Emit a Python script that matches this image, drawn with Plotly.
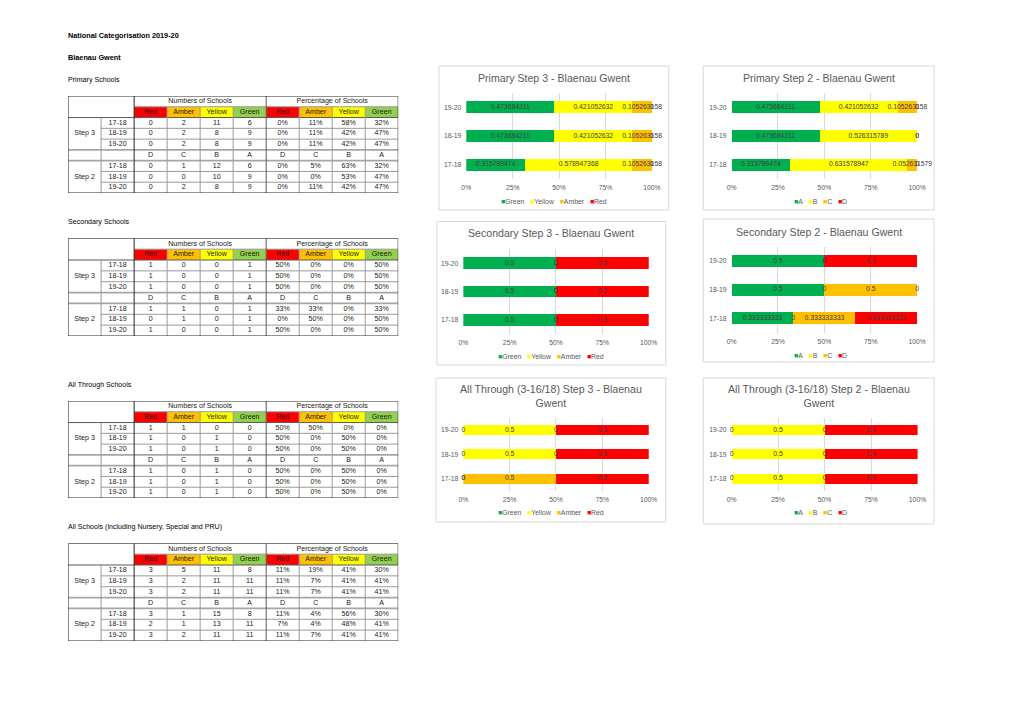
import plotly.graph_objects as go

W, H = 1020, 721

# ---------------- data ----------------
years = ["17-18", "18-19", "19-20"]
step3_bands = ["Red", "Amber", "Yellow", "Green"]
step2_bands = ["D", "C", "B", "A"]

primary_step3 = [[0, 2, 11, 6], [0, 2, 8, 9], [0, 2, 8, 9]]
primary_step2 = [[0, 1, 12, 6], [0, 0, 10, 9], [0, 2, 8, 9]]
secondary_step3 = [[1, 0, 0, 1], [1, 0, 0, 1], [1, 0, 0, 1]]
secondary_step2 = [[1, 1, 0, 1], [0, 1, 0, 1], [1, 0, 0, 1]]
allthrough_step3 = [[1, 1, 0, 0], [1, 0, 1, 0], [1, 0, 1, 0]]
allthrough_step2 = [[1, 0, 1, 0], [1, 0, 1, 0], [1, 0, 1, 0]]
allschools_step3 = [[3, 5, 11, 8], [3, 2, 11, 11], [3, 2, 11, 11]]
allschools_step2 = [[3, 1, 15, 8], [2, 1, 13, 11], [3, 2, 11, 11]]

chart_titles = [
    "Primary Step 3 - Blaenau Gwent",
    "Primary Step 2 - Blaenau Gwent",
    "Secondary Step 3 - Blaenau Gwent",
    "Secondary Step 2 - Blaenau Gwent",
    "All Through (3-16/18) Step 3 - Blaenau<br>Gwent",
    "All Through (3-16/18) Step 2 - Blaenau<br>Gwent",
]
section_titles = ["Primary Schools", "Secondary Schools", "All Through Schools",
                  "All Schools (including Nursery, Special and PRU)"]

# ---------------- styles ----------------
BAR_COL = {"Red": "#FF0000", "Amber": "#FFC000", "Yellow": "#FFFF00", "Green": "#00B050",
           "D": "#FF0000", "C": "#FFC000", "B": "#FFFF00", "A": "#00B050"}
HEAD_COL = {"Red": "#FF0000", "Amber": "#FFC000", "Yellow": "#FFFF00", "Green": "#92D050"}
FONT = "Liberation Sans, Arial, sans-serif"
GREY = "#595959"


def px(x):
    return x / W


def py(y):
    return 1 - y / H


def fmt_general(v):
    s = f"{v:.9f}".rstrip("0").rstrip(".")
    return s if s else "0"


def pct(c, tot):
    return f"{int(c / tot * 100 + 0.5)}%"


fig = go.Figure()
shapes = []
annotations = []
layout = {}

# ---------------- charts ----------------
charts = [
    # counts, bands, box(x0,y0,x1,y1), plot x (0%,100%), plot y (top,bottom), title y, legend (x,y)
    (primary_step3, step3_bands, (440, 66, 673, 210), (467.7, 656), (93, 179), 78.3, (557, 201.5)),
    (primary_step2, step2_bands, (708, 66, 942, 210), (736.7, 925), (93, 179), 78.3, (826.7, 201.5)),
    (secondary_step3, step3_bands, (438, 221.5, 670, 365), (464.7, 652.7), (249, 334.2), 233, (554, 356.7)),
    (secondary_step2, step2_bands, (708, 219, 942, 362), (736.7, 925), (246.7, 332.7), 231.7, (826.7, 355)),
    (allthrough_step3, step3_bands, (437, 378, 670, 522), (464.7, 652.7), (417.8, 490.8), 395.8, (554, 512.3)),
    (allthrough_step2, step2_bands, (708, 378, 942, 524), (736.7, 925.3), (417.8, 490.8), 395.8, (826.7, 512.7)),
]

for ci, (counts, bands, box, xd, yd, ty, leg) in enumerate(charts):
    n = ci + 1
    xa = "x" if n == 1 else f"x{n}"
    ya = "y" if n == 1 else f"y{n}"
    order = [3, 2, 1, 0]  # Green/A first, Red/D last
    totals = [sum(r) for r in counts]
    cum = [0.0] * len(years)
    tx, ty_, tt = [], [], []
    for k in order:
        vals = [counts[i][k] / totals[i] for i in range(len(years))]
        fig.add_trace(go.Bar(
            x=vals, y=years, orientation="h", name=bands[k],
            marker=dict(color=BAR_COL[bands[k]], line=dict(width=0)),
            width=0.41, xaxis=xa, yaxis=ya, showlegend=False, hoverinfo="x+y+name"))
        for i, v in enumerate(vals):
            tx.append(cum[i] + v / 2)
            ty_.append(years[i])
            tt.append(fmt_general(v))
            cum[i] += v
    fig.add_trace(go.Scatter(
        x=tx, y=ty_, text=tt, mode="text", textposition="middle center",
        textfont=dict(family=FONT, size=6.8, color="#404040"),
        xaxis=xa, yaxis=ya, showlegend=False, hoverinfo="skip", cliponaxis=False))

    layout[f"xaxis{'' if n == 1 else n}"] = dict(
        domain=[px(xd[0]), px(xd[1])], range=[0, 1.0005], anchor=ya,
        tickvals=[0, 0.25, 0.5, 0.75, 1.0], tickformat=".0%",
        showgrid=True, gridcolor="#D9D9D9", gridwidth=1.4, zeroline=False,
        showline=False, ticks="", fixedrange=True, ticklabelstandoff=3,
        tickfont=dict(family=FONT, size=6.8, color=GREY))
    layout[f"yaxis{'' if n == 1 else n}"] = dict(
        domain=[py(yd[1]), py(yd[0])], anchor=xa, type="category",
        categoryorder="array", categoryarray=years, range=[-0.5, 2.5],
        showgrid=False, zeroline=False, showline=False, ticks="", fixedrange=True,
        ticklabelstandoff=4,
        tickfont=dict(family=FONT, size=6.8, color=GREY))

    shapes.append(dict(type="rect", xref="paper", yref="paper",
                       x0=px(box[0]), x1=px(box[2]), y0=py(box[3]), y1=py(box[1]),
                       line=dict(color="#D9D9D9", width=1), fillcolor="rgba(0,0,0,0)",
                       layer="below"))
    annotations.append(dict(text=chart_titles[ci], xref="paper", yref="paper",
                            x=px((box[0] + box[2]) / 2), y=py(ty), xanchor="center",
                            yanchor="middle", showarrow=False,
                            font=dict(family=FONT, size=10.6, color=GREY)))
    legend_parts = []
    for k in order:
        legend_parts.append(f"<span style='color:{BAR_COL[bands[k]]}'>■</span>{bands[k]}")
    annotations.append(dict(text="\u00a0\u00a0\u00a0".join(legend_parts), xref="paper", yref="paper",
                            x=px(leg[0]), y=py(leg[1]), xanchor="center", yanchor="middle",
                            showarrow=False, font=dict(family=FONT, size=6.9, color=GREY)))

# ---------------- tables ----------------
TFONT = "Liberation Sans, Arial, sans-serif"
tables = [
    (primary_step3, primary_step2, 96, 193),
    (secondary_step3, secondary_step2, 238.3, 336),
    (allthrough_step3, allthrough_step2, 401, 498),
    (allschools_step3, allschools_step2, 543.3, 641),
]
TX0, TX1 = 64, 398.7
DARK, MID, DBL = "#262626", "#9A9A9A", "#A6A6A6"

for ti, (c3, c2, top, bot) in enumerate(tables):
    n = 7 + ti
    xa, ya = f"x{n}", f"y{n}"
    layout[f"xaxis{n}"] = dict(domain=[px(TX0), px(TX1)], range=[0, 10], anchor=ya,
                               visible=False, fixedrange=True)
    layout[f"yaxis{n}"] = dict(domain=[py(bot), py(top)], range=[9, 0], anchor=xa,
                               visible=False, fixedrange=True)
    cx, cy, ct = [], [], []

    def cell(c, r, t):
        cx.append(c)
        cy.append(r)
        ct.append(t)

    cell(4, 0.5, "Numbers of Schools")
    cell(8, 0.5, "Percentage of Schools")
    for j, b in enumerate(step3_bands):
        for off in (2, 6):
            shapes.append(dict(type="rect", xref=xa, yref=ya, x0=off + j, x1=off + j + 1,
                               y0=1, y1=2, fillcolor=HEAD_COL[b], line=dict(width=0),
                               layer="below"))
            cell(off + j + 0.5, 1.5, b)
    for blk, (counts, first_row, label) in enumerate([(c3, 2, "Step 3"), (c2, 6, "Step 2")]):
        cell(0.5, first_row + 1.5, label)
        for i, yr in enumerate(years):
            r = first_row + i + 0.5
            cell(1.5, r, yr)
            tot = sum(counts[i])
            for j, v in enumerate(counts[i]):
                cell(2 + j + 0.5, r, str(v))
                cell(6 + j + 0.5, r, pct(v, tot))
    for j, b in enumerate(step2_bands):
        cell(2 + j + 0.5, 5.5, b)
        cell(6 + j + 0.5, 5.5, b)

    fig.add_trace(go.Scatter(x=cx, y=cy, text=ct, mode="text", textposition="middle center",
                             textfont=dict(family=TFONT, size=7.1, color="#1A1A1A"),
                             xaxis=xa, yaxis=ya, showlegend=False, hoverinfo="skip",
                             cliponaxis=False))

    def hline(y, x0, x1, col, w):
        shapes.append(dict(type="line", xref=xa, yref=ya, x0=x0, x1=x1, y0=y, y1=y,
                           line=dict(color=col, width=w)))

    def vline(x, y0, y1, col, w):
        shapes.append(dict(type="line", xref=xa, yref=ya, x0=x, x1=x, y0=y0, y1=y1,
                           line=dict(color=col, width=w)))

    hline(1, 2, 10, MID, 1)
    hline(2, 0, 10, "#595959", 1)
    for y in (3, 4, 7, 8):
        hline(y, 1, 10, MID, 1)
    for y in (5, 6):
        hline(y, 0, 10, DBL, 1.8)
    vline(1, 2, 9, MID, 1)
    for x in (3, 4, 5, 7, 8, 9):
        vline(x, 1, 9, MID, 1)
    vline(6, 0, 9, "#595959", 1)
    vline(2, 0, 9, DARK, 1)
    shapes.append(dict(type="rect", xref=xa, yref=ya, x0=0, x1=10, y0=0, y1=9,
                       line=dict(color=DARK, width=1), fillcolor="rgba(0,0,0,0)"))

# ---------------- page text ----------------
page_text = [
    ("National Categorisation 2019-20", 35.7, True, 7.3),
    ("Blaenau Gwent", 57.7, True, 7.3),
    (section_titles[0], 80, False, 7.1),
    (section_titles[1], 221.7, False, 7.1),
    (section_titles[2], 385, False, 7.1),
    (section_titles[3], 526.7, False, 7.1),
]
for t, y, bold, fs in page_text:
    annotations.append(dict(text=f"<b>{t}</b>" if bold else t, xref="paper", yref="paper",
                            x=px(62), y=py(y), xanchor="left", yanchor="middle",
                            showarrow=False,
                            font=dict(family=FONT, size=fs, color="#000000")))

fig.update_layout(
    width=W, height=H, margin=dict(l=0, r=0, t=0, b=0),
    paper_bgcolor="white", plot_bgcolor="white",
    barmode="stack", showlegend=False,
    shapes=shapes, annotations=annotations, **layout)

fig.write_html("out.html")
